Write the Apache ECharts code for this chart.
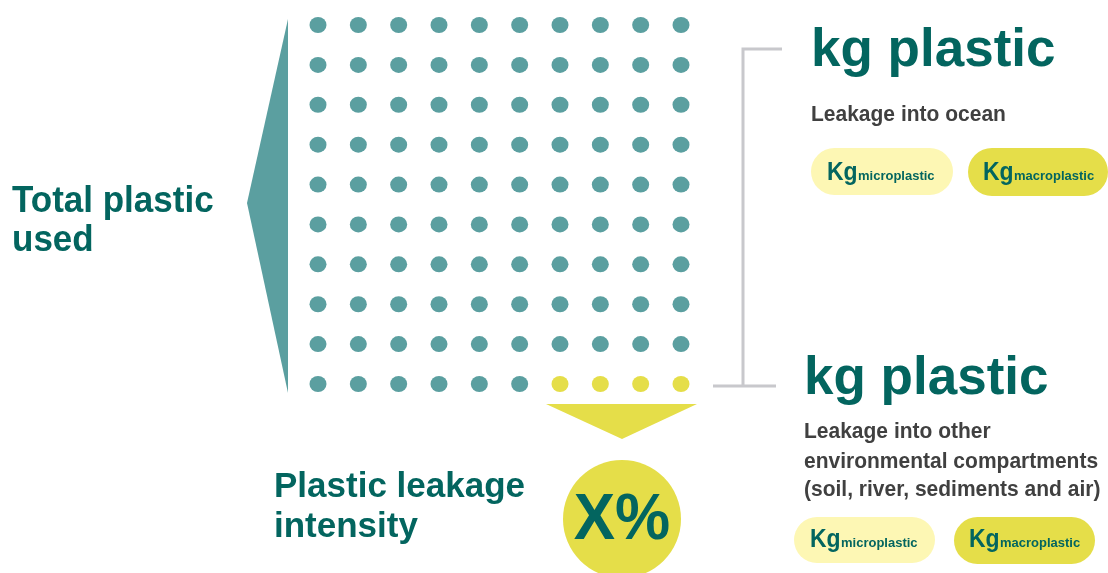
<!DOCTYPE html>
<html><head><meta charset="utf-8">
<script src="https://cdn.jsdelivr.net/npm/echarts@6/dist/echarts.min.js"></script>
<style>html,body{margin:0;padding:0;background:#fff}#c{width:1108px;height:573px}</style>
</head><body><div id="c"></div>
<script>
// ---- data ----
const columns = ['1','2','3','4','5','6','7','8','9','10'];
const rows = ['1','2','3','4','5','6','7','8','9','10'];
// number of leaked units (yellow) per row, counted from the right
const leakedPerRow = [0,0,0,0,0,0,0,0,0,4];
const labelTotal = ['Total plastic', 'used'];
const labelIntensity = ['Plastic leakage', 'intensity'];
const labelPercent = 'X%';
const headline = 'kg plastic';
const oceanText = ['Leakage into ocean'];
const otherText = ['Leakage into other', 'environmental compartments', '(soil, river, sediments and air)'];
const pillBig = 'Kg';
const pillSmall = ['microplastic', 'macroplastic'];

// ---- build ----
const TEAL = '#5B9FA0', YEL = '#E5DE49', DARK = '#03655F', GREY = '#404040';
const usedDots = [], leakDots = [];
rows.forEach((r, ri) => {
  columns.forEach((c, ci) => {
    if (ci >= columns.length - leakedPerRow[ri]) leakDots.push([c, r]); else usedDots.push([c, r]);
  });
});
const FF = '"Liberation Sans", Arial, Helvetica, sans-serif';
function txt(x, yBase, s, size, color, sy) {
  return { type: 'text', x: x, y: yBase + size * 0.212 * (sy || 1), scaleY: sy || 1,
    style: { text: s, fontFamily: FF, fontWeight: 'bold', fontSize: size, fill: color, align: 'left', verticalAlign: 'bottom' } };
}
function pill(x, y, w, h, fill, kind, tx, base) {
  return [
    { type: 'rect', shape: { x: x, y: y, width: w, height: h, r: h / 2 }, style: { fill: fill } },
    txt(tx, base, pillBig, 23, DARK, 1.1),
    txt(tx + 31, base, pillSmall[kind], 13, DARK, 1.05)
  ];
}
const g = [];
// left teal arrow
g.push({ type: 'polygon', shape: { points: [[288, 19], [288, 393], [247, 203]] }, style: { fill: TEAL } });
// yellow down arrow
g.push({ type: 'polygon', shape: { points: [[546, 404], [697, 404], [622, 439]] }, style: { fill: YEL } });
// percent circle
g.push({ type: 'circle', shape: { cx: 622, cy: 519, r: 59 }, style: { fill: YEL } });
g.push({ type: 'text', x: 622, y: 540 + 62 * 0.212 * 1.05, scaleY: 1.05, style: { text: labelPercent, fontFamily: FF, fontWeight: 'bold', fontSize: 62, fill: DARK, align: 'center', verticalAlign: 'bottom' } });
// bracket
g.push({ type: 'polyline', shape: { points: [[782, 49], [743, 49], [743, 386]] }, style: { stroke: '#C8C8CC', lineWidth: 3, fill: null } });
g.push({ type: 'line', shape: { x1: 713, y1: 386, x2: 776, y2: 386 }, style: { stroke: '#C8C8CC', lineWidth: 3 } });
// texts
g.push(txt(12, 212, labelTotal[0], 35, DARK, 1.08));
g.push(txt(12, 251, labelTotal[1], 35, DARK, 1.08));
g.push(txt(274, 497, labelIntensity[0], 35, DARK, 1.02));
g.push(txt(274, 537, labelIntensity[1], 35, DARK, 1.02));
g.push(txt(811, 67, headline, 53, DARK));
g.push(txt(811, 121, oceanText[0], 21, GREY, 1.04));
g.push(txt(804, 395, headline, 53, DARK));
otherText.forEach((s, i) => g.push(txt(804, [438, 468, 496][i], s, 21, GREY, 1.04)));
// pills
g.push(...pill(811, 148, 142, 47, '#FDF7B4', 0, 827, 180));
g.push(...pill(968, 148, 140, 48, YEL, 1, 983, 180));
g.push(...pill(794, 517, 141, 46, '#FDF7B4', 0, 810, 547));
g.push(...pill(954, 517, 141, 47, YEL, 1, 969, 547));

const chart = echarts.init(document.getElementById('c'), null, { renderer: 'canvas' });
chart.setOption({
  animation: false,
  grid: { left: 318, top: 25, width: 363, height: 359 },
  xAxis: { type: 'category', data: columns, boundaryGap: false, show: false },
  yAxis: { type: 'category', data: rows, boundaryGap: false, inverse: true, show: false },
  series: [
    { type: 'scatter', data: usedDots, symbol: 'circle', symbolSize: [17, 16], itemStyle: { color: TEAL, opacity: 1 } },
    { type: 'scatter', data: leakDots, symbol: 'circle', symbolSize: [17, 16], itemStyle: { color: YEL, opacity: 1 } }
  ],
  graphic: g
});
</script></body></html>
